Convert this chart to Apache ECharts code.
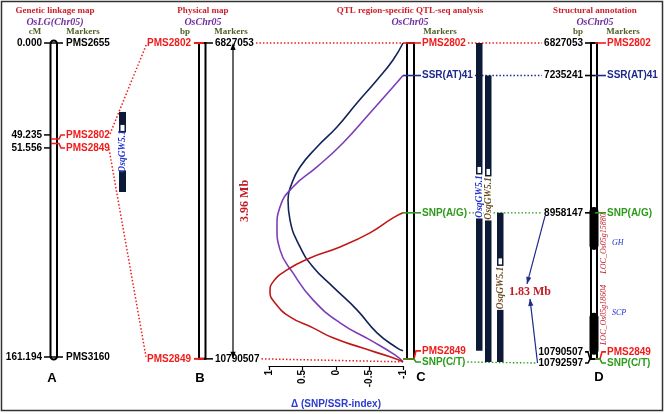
<!DOCTYPE html>
<html><head><meta charset="utf-8">
<script src="https://cdn.jsdelivr.net/npm/echarts@6/dist/echarts.min.js"></script>
<style>html,body{margin:0;padding:0;background:#fff}#c{width:666px;height:414px}</style>
</head><body><div id="c"></div>
<script>
// ---------------- DATA ----------------
// Panel A: genetic linkage map (cM)
const markersA = ['PMS2655', 'PMS2802', 'PMS2849', 'PMS3160'];
const cMA = [0.000, 49.235, 51.556, 161.194];
const qtlA = [35.4, 76.5];          // QTL interval (cM)
const peakA = 43.6;                 // peak marker (cM)
// Panel B: physical map (bp)
const markersB = ['PMS2802', 'PMS2849'];
const bpB = [6827053, 10790507];
// Panel C / D markers (bp)
const markersC = ['PMS2802', 'SSR(AT)41', 'SNP(A/G)', 'PMS2849', 'SNP(C/T)'];
const bpC = [6827053, 7235241, 8958147, 10790507, 10792597];
// QTL intervals in panel C
const qtlName = 'OsqGW5.1';
const qtlStart = [6827053, 7235241, 8958147];
const qtlEnd = [10790507, 10792597, 10792597];
const qtlPeak = [8419963, 8444988, 9567647];
// Panel D genes
const genes = ['LOC_Os05g15880', 'LOC_Os05g18604'];
const geneFunc = ['GH', 'SCP'];
const geneStart = [8884039, 10213555];
const geneEnd = [9423371, 10740344];
// Delta (SNP/SSR-index) curves
const navyDelta = [-1, -0.851, -0.612, -0.313, -0.015, 0.284, 0.537, 0.657, 0.716, 0.687, 0.537, 0.343, 0.045, -0.313, -0.612, -0.91, -1];
const navyBp = [6827053, 7040277, 7291129, 7579609, 7880631, 8131483, 8382335, 8583017, 8796241, 9047093, 9385743, 9636595, 9887447, 10175927, 10464407, 10652546, 10690174];
const purpleDelta = [-1, -0.851, -0.507, -0.104, 0.284, 0.642, 0.836, 0.881, 0.836, 0.642, 0.343, -0.06, -0.507, -0.88, -1];
const purpleBp = [7235241, 7378927, 7705035, 8081313, 8382335, 8633187, 8884039, 9134891, 9423371, 9711851, 10050501, 10338981, 10552205, 10740344, 10828142];
const redDelta = [-1, -0.851, -0.507, -0.06, 0.388, 0.731, 0.940, 0.985, 0.910, 0.687, 0.343, 0.045, -0.388, -0.806, -1];
const redBp = [8958147, 9022008, 9210147, 9385743, 9523712, 9674223, 9824734, 9950160, 10088129, 10263725, 10401694, 10527120, 10652546, 10765429, 10828142];

// ---------------- STYLE / LAYOUT ----------------
const FS = '"Liberation Sans", Arial, sans-serif';
const FR = '"Liberation Serif", "Times New Roman", serif';
const RED = '#f01c1c', NAVY = '#1f2a8a', GREEN = '#2c9a1a', BAR = '#0c1a38';
const TITLE = '#cc1f2b', PURPLE = '#7030a0', OLIVE = '#4f6228';
const colC = [RED, NAVY, GREEN, RED, GREEN];
const spreadA = [0, -4, 4.5, 0];
const spreadC = [0, 0, 0, -8, 3];
const spreadD = [0, 0, 0, -7, 4];

const chart = echarts.init(document.getElementById('c'));
chart.setOption({
  animation: false,
  grid: [
    { left: 269, top: 43, width: 134, height: 319 },
    { left: 50, top: 43, width: 7, height: 314 }
  ],
  xAxis: [
    { type: 'value', gridIndex: 0, min: -1, max: 1, interval: 0.5, inverse: true, offset: 4,
      axisLine: { show: true, onZero: false, lineStyle: { color: '#000', width: 1.2 } },
      axisTick: { show: true, length: 4, lineStyle: { color: '#000', width: 1.2 } },
      axisLabel: { rotate: 90, color: '#000', fontFamily: FS, fontWeight: 'bold', fontSize: 10, margin: 4 },
      splitLine: { show: false },
      name: 'Δ (SNP/SSR-index)', nameLocation: 'middle', nameGap: 33,
      nameTextStyle: { color: '#2b3bd0', fontFamily: FS, fontWeight: 'bold', fontSize: 10 } },
    { type: 'value', gridIndex: 1, show: false }
  ],
  yAxis: [
    { type: 'value', gridIndex: 0, min: 6827053, max: 10830000, inverse: true, show: false },
    { type: 'value', gridIndex: 1, min: 0, max: 161.194, inverse: true, show: false }
  ],
  series: [
    { type: 'line', data: navyDelta.map((d, i) => [d, navyBp[i]]), smooth: 0.5, symbol: 'none', lineStyle: { color: '#13235a', width: 1.6 }, z: 5 },
    { type: 'line', data: purpleDelta.map((d, i) => [d, purpleBp[i]]), smooth: 0.5, symbol: 'none', lineStyle: { color: '#7d3cb8', width: 1.6 }, z: 5 },
    { type: 'line', data: redDelta.map((d, i) => [d, redBp[i]]), smooth: 0.5, symbol: 'none', lineStyle: { color: '#c01818', width: 1.6 }, z: 5 }
  ]
});

// ---------------- helpers ----------------
const yA = v => chart.convertToPixel({ yAxisIndex: 1 }, v);
const yB = v => chart.convertToPixel({ yAxisIndex: 0 }, v);
const xD = v => chart.convertToPixel({ xAxisIndex: 0 }, v);
const ctx = document.createElement('canvas').getContext('2d');
const tw = (s, font) => { ctx.font = font; return ctx.measureText(s).width; };
const els = [];
const T = (s, x, y, font, fill, align, rot) => els.push({ type: 'text', x, y, rotation: rot || 0, silent: true, z: 10,
  style: { text: s, x: 0, y: 0, font, fill, textAlign: align || 'center', textVerticalAlign: 'middle', align: align || 'center', verticalAlign: 'middle' } });
const L = (x1, y1, x2, y2, c, w, dash, z) => els.push({ type: 'line', silent: true, z: z || 4, shape: { x1, y1, x2, y2 },
  style: { stroke: c, lineWidth: w || 1, lineDash: dash || null } });
const P = (pts, c, w, z) => els.push({ type: 'polyline', silent: true, z: z || 4, shape: { points: pts }, style: { stroke: c, lineWidth: w || 1, fill: null } });
const R = (x, y, w, h, fill, stroke, lw, r, z) => els.push({ type: 'rect', silent: true, z: z || 3, shape: { x, y, width: w, height: h, r: r || 0 },
  style: { fill: fill || 'none', stroke: stroke || null, lineWidth: lw || 0 } });
const arrowHead = (x1, y1, x2, y2, c) => {
  const a = Math.atan2(y2 - y1, x2 - x1), l = 7, h = 2.6;
  const bx = x2 - l * Math.cos(a), by = y2 - l * Math.sin(a);
  els.push({ type: 'polygon', silent: true, z: 6, shape: { points: [[x2, y2], [bx + h * Math.sin(a), by - h * Math.cos(a)], [bx - h * Math.sin(a), by + h * Math.cos(a)]] }, style: { fill: c } });
};
const NUMF = 'bold 10px ' + FS;
const LABF = 'bold 10px ' + FS;

// frame
R(1.5, 1.5, 661, 409, 'none', '#333', 1.5, 0, 0);

// titles
const titles = [
  ['Genetic linkage map', 'OsLG(Chr05)', 55, [['cM', 35], ['Markers', 83]]],
  ['Physical map', 'OsChr05', 203, [['bp', 185], ['Markers', 231]]],
  ['QTL region-specific QTL-seq analysis', 'OsChr05', 410, [['Markers', 440]]],
  ['Structural annotation', 'OsChr05', 595, [['bp', 578], ['Markers', 623]]]
];
titles.forEach(t => {
  T(t[0], t[2], 11, 'bold 9px ' + FR, TITLE);
  T(t[1], t[2], 22, 'italic bold 10px ' + FR, PURPLE);
  t[3].forEach(h => T(h[0], h[1], 32, 'bold 9px ' + FR, OLIVE));
});

// bar helper (QTL interval with peak square and label)
function qtlBar(x, w, top, bot, peak, gap, tc) {
  R(x, top, w, bot - top, BAR, null, 0, 0, 5);
  R(x + 1.5, peak - 3, w - 3, 6, '#fff', null, 0, 0, 6);
  const g0 = peak + 4.5;
  R(x - 1, g0, w + 2, gap, '#fff', null, 0, 0, 6);
  T(qtlName, x + w / 2, g0 + gap / 2, 'italic bold 9.5px ' + FR, tc, 'center', Math.PI / 2);
}

// ---------- Panel A ----------
const ryA = cMA.map(yA), lyA = ryA.map((y, i) => y + spreadA[i]);
const colA = ['#000', RED, RED, '#000'];
R(50.5, ryA[0] - 2.5, 6.5, ryA[3] - ryA[0] + 5, '#fff', '#000', 2, 3.5, 2);
cMA.forEach((v, i) => {
  if (colA[i] === '#000') L(44, lyA[i], 63, lyA[i], '#000', 1.5);
  else { L(44, lyA[i], 51, lyA[i], '#000', 1.5); P([[51, ryA[i]], [59, ryA[i]], [61, lyA[i]], [65, lyA[i]]], RED, 1.5); }
  T(v.toFixed(3), 42, lyA[i], NUMF, '#000', 'right');
  T(markersA[i], 66, lyA[i], LABF, colA[i], 'left');
});
qtlBar(119, 7, yA(qtlA[0]), yA(qtlA[1]), yA(peakA), 38, '#2030d0');
T('A', 52, 378, 'bold 13px ' + FS, '#000');

// ---------- Panel B ----------
const ryB = bpB.map(yB);
R(199, ryB[0], 6.5, ryB[1] - ryB[0], '#fff', '#000', 2, 0, 2);
bpB.forEach((v, i) => {
  L(194, ryB[i], 204, ryB[i], RED, 2);
  L(204, ryB[i], 213, ryB[i], '#000', 1.5);
  T(markersB[i], 191, ryB[i], LABF, RED, 'right');
  T(String(v), 215, ryB[i], NUMF, '#000', 'left');
});
L(233, ryB[0] + 6, 233, ryB[1] - 6, '#000', 1.2);
arrowHead(233, ryB[1], 233, ryB[0], '#000');
arrowHead(233, ryB[0], 233, ryB[1], '#000');
T(((bpB[1] - bpB[0]) / 1e6).toFixed(2) + ' Mb', 245, (ryB[0] + ryB[1]) / 2, 'bold 12px ' + FR, '#c41c24', 'center', Math.PI / 2);
T('B', 200, 378, 'bold 13px ' + FS, '#000');
// A -> B dotted
L(110, lyA[1] - 1, 147, ryB[0], RED, 1.5, [1.5, 2]);
L(109, lyA[2] + 1, 146, ryB[1] - 2, RED, 1.5, [1.5, 2]);
// B -> C dotted
L(215 + tw(String(bpB[0]), NUMF) + 2, ryB[0], xD(-1), ryB[0], RED, 1.5, [1.5, 2]);
L(215 + tw(String(bpB[1]), NUMF) + 2, ryB[1], xD(-1), ryB[1] + 3, RED, 1.5, [1.5, 2]);

// ---------- Panel C ----------
const ryC = bpC.map(yB), lyC = ryC.map((y, i) => y + spreadC[i]);
const dispC = bp => lyC[bpC.indexOf(bp)];
R(407, ryC[0], 7, ryC[4] - ryC[0], '#fff', '#000', 2, 0, 2);
bpC.forEach((v, i) => {
  P([[xD(-1), ryC[i]], [414, ryC[i]], [416, lyC[i]], [421, lyC[i]]], colC[i], 1.6);
  T(markersC[i], 422, lyC[i], LABF, colC[i], 'left');
});
const barX = [476, 485, 497], barTC = ['#2030d0', '#6b4b1b', '#6b4b1b'];
qtlStart.forEach((s, i) => qtlBar(barX[i], 6.5, dispC(s), dispC(qtlEnd[i]), yB(qtlPeak[i]), 44, barTC[i]));
T('C', 421, 377, 'bold 13px ' + FS, '#000');

// ---------- Panel D ----------
const lyD = ryC.map((y, i) => y + spreadD[i]);
R(591, ryC[0], 6, ryC[4] - ryC[0], '#fff', '#000', 2, 0, 2);
genes.forEach((g, i) => {
  const t = yB(geneStart[i]), b = yB(geneEnd[i]);
  R(589.5, t, 9, b - t, '#000', null, 0, 4.5, 3);
});
const geneLabOff = [15, -19], funcOff = [14, -21];
genes.forEach((g, i) => {
  const mid = (yB(geneStart[i]) + yB(geneEnd[i])) / 2;
  T(g, 604, mid + geneLabOff[i], 'italic 8px ' + FR, '#c0202a', 'center', Math.PI / 2);
  T(geneFunc[i], 612, mid + funcOff[i], 'italic 8px ' + FR, '#2030d0', 'left');
});
const numLeftD = [];
bpC.forEach((v, i) => {
  P([[585, lyD[i]], [588, lyD[i]], [590, ryC[i]], [595, ryC[i]]], '#000', 1.6);
  P([[595, ryC[i]], [600, ryC[i]], [602, lyD[i]], [606, lyD[i]]], colC[i], 1.6);
  T(String(v), 583, lyD[i], NUMF, '#000', 'right');
  numLeftD.push(583 - tw(String(v), NUMF));
  T(markersC[i], 607, lyD[i], LABF, colC[i], 'left');
});
T('D', 599, 377, 'bold 13px ' + FS, '#000');
// C -> D dotted
[0, 1, 2, 4].forEach(i => {
  L(422 + tw(markersC[i], LABF) + 2, lyC[i], numLeftD[i] - 2, lyD[i], colC[i], 1.4, [1.5, 2], 1);
});
// 1.83 Mb
const midD = (lyD[2] + lyD[4]) / 2;
T(((bpC[4] - bpC[2]) / 1e6).toFixed(2) + ' Mb', 530, midD + 4, 'bold 12px ' + FR, '#c41c24');
L(numLeftD[2] + 1, lyD[2] + 3, 527, midD - 4, NAVY, 1.2);
arrowHead(numLeftD[2] + 1, lyD[2] + 3, 527, midD - 4, NAVY);
L(numLeftD[4] - 1, lyD[4], 530, midD + 11, NAVY, 1.2);
arrowHead(numLeftD[4] - 1, lyD[4], 530, midD + 11, NAVY);

chart.setOption({ graphic: { elements: els } });
</script>
</body></html>
